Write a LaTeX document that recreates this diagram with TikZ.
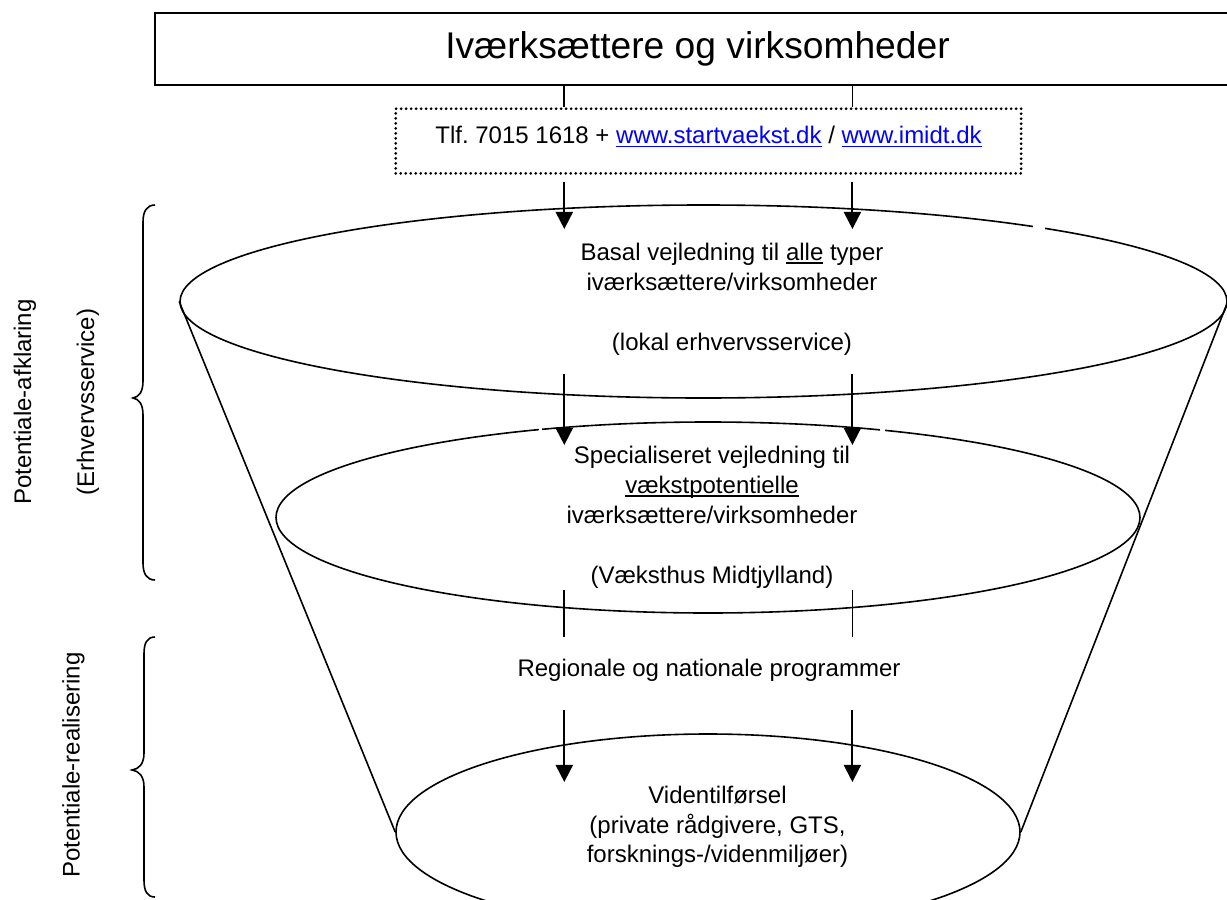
\documentclass[tikz,border=0pt]{standalone}
\usepackage{fontspec}
\setmainfont{Liberation Sans}
\usetikzlibrary{arrows.meta,shapes.geometric}
\definecolor{linkblue}{RGB}{0,0,255}
% underline drawn at a fixed depth below the baseline
\newsavebox{\ulbox}
\newcommand{\wordul}[1]{\sbox{\ulbox}{#1}\rlap{\rule[-1.7pt]{\wd\ulbox}{0.6pt}}\usebox{\ulbox}}

\begin{document}
\frenchspacing
\begin{tikzpicture}[x=0.5pt,y=-0.5pt,
  txt/.style={font=\fontsize{12}{15}\selectfont, align=center, inner sep=0pt},
  rim/.style={draw, line width=0.8pt, ellipse, inner sep=0pt},
  stub/.style={line width=0.9pt},
  flow/.style={line width=1pt, -{Triangle[width=8.6pt,length=8.6pt]}},
  brace/.style={line width=0.8pt},
  ]
\clip (0,0) rectangle (1227,900);

% title box (runs off the right edge)
\node[draw, line width=1pt, minimum width=542.5pt, minimum height=36.2pt, inner sep=0pt,
      font=\fontsize{18.6}{22}\selectfont] (actors) at (697.5,49) {Iværksættere og virksomheder};

% dotted contact box
\node[draw, line width=1.5pt, dash pattern=on 0pt off 2.5pt, line cap=round,
      minimum width=312.7pt, minimum height=32.3pt, inner sep=0pt] (hotline) at (708.4,141) {};
\node[txt] (hotlinetxt) at (708.5,137) {Tlf. 7015 1618 + {\color{linkblue}\wordul{www.startvaekst.dk}} / {\color{linkblue}\wordul{www.imidt.dk}}};

% funnel levels
\node[rim, minimum width=523.5pt, minimum height=96.5pt] (basal) at (703.5,301.5) {};
\node[rim, minimum width=432pt, minimum height=95.5pt] (special) at (708,517.5) {};
\node[rim, minimum width=312pt, minimum height=98pt] (viden) at (708,832) {};

% funnel sides
\draw[line width=0.8pt] (basal.west) -- (viden.west);
\draw[line width=0.8pt] (basal.east) -- (viden.east);

% small breaks in the rims
\fill[white] (538.5,424) rectangle (541.5,436);
\fill[white] (880,424) rectangle (885,436);
\fill[white] (1033,221) rectangle (1045,233);

% texts
\node[txt] (basaltxt) at (732,299) {Basal vejledning til \wordul{alle} typer\\ iværksættere/virksomheder\\[15pt] (lokal erhvervsservice)};
\node[txt] (specialtxt) at (712,517) {Specialiseret vejledning til\\ \wordul{vækstpotentielle}\\ iværksættere/virksomheder\\[15pt] (Væksthus Midtjylland)};
\node[txt] (progtxt) at (709,670) {Regionale og nationale programmer};
\node[txt, font=\fontsize{12}{14.8}\selectfont] (videntxt) at (717.5,827) {Videntilførsel\\ (private rådgivere, GTS,\\ forsknings-/videnmiljøer)};

% side labels
\node[txt, rotate=90] (afkl) at (25,402) {Potentiale-afklaring};
\node[txt, rotate=90] (erhv) at (88,402) {(Erhvervsservice)};
\node[txt, rotate=90] (real) at (73.5,765) {Potentiale-realisering};

% braces
\draw[brace] (155,205) .. controls (147,205) and (143,211) .. (143,222) -- (143,381)
  .. controls (143,392) and (139,397) .. (133,398)
  .. controls (139,399) and (143,404) .. (143,415) -- (143,563)
  .. controls (143,574) and (147,580) .. (155,580);
\draw[brace] (155,637) .. controls (147,637) and (144,643) .. (144,654) -- (144,753)
  .. controls (144,764) and (139,769) .. (132,770)
  .. controls (139,771) and (144,776) .. (144,787) -- (144,880)
  .. controls (144,891) and (147,897) .. (155,897);

% flow columns
\coordinate (colL) at (564.3,0);
\coordinate (colR) at (852.4,0);
\coordinate (a1s) at (0,181.7); \coordinate (a1e) at (0,229);
\coordinate (a2s) at (0,374);   \coordinate (a2e) at (0,445);
\coordinate (l3s) at (0,590);   \coordinate (l3e) at (0,637);
\coordinate (a4s) at (0,710);   \coordinate (a4e) at (0,782);

\foreach \c in {colL,colR}{
  \draw[stub] (actors.south -| \c) -- (hotline.north -| \c);
  \draw[flow] (\c |- a1s) -- (\c |- a1e);
  \draw[flow] (\c |- a2s) -- (\c |- a2e);
  \draw[stub] (\c |- l3s) -- (\c |- l3e);
  \draw[flow] (\c |- a4s) -- (\c |- a4e);
}
\end{tikzpicture}
\end{document}
